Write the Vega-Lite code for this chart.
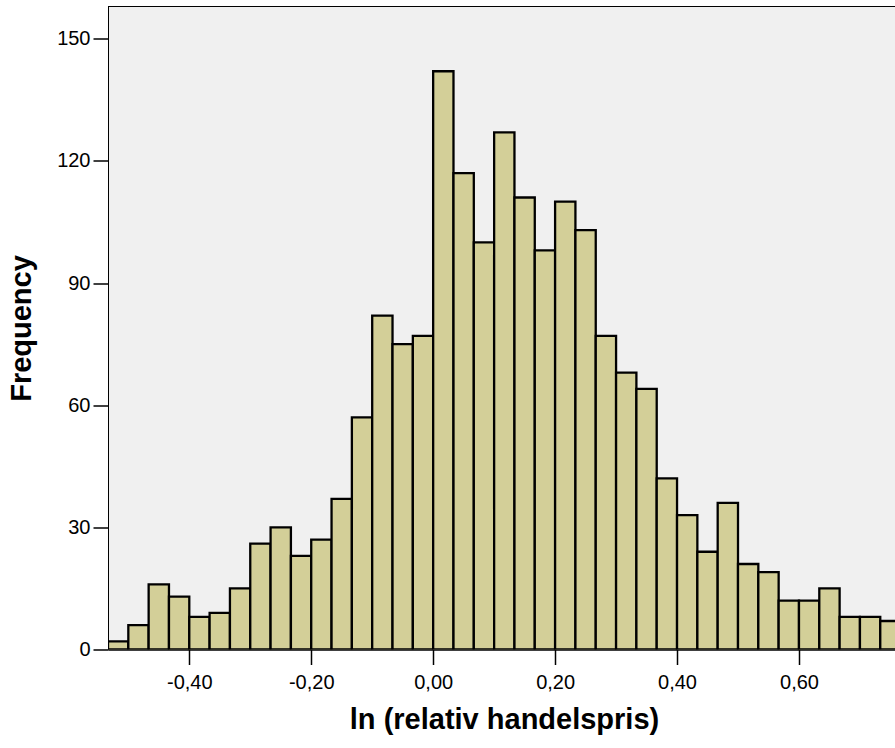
{
  "$schema": "https://vega.github.io/schema/vega-lite/v6.json",
  "width": 787,
  "height": 643,
  "autosize": "none",
  "padding": {"left": 108, "top": 6.5, "right": 0, "bottom": 98.5},
  "background": "white",
  "data": {"values": [
    {"lo": -0.533333, "hi": -0.5, "n": 2},
    {"lo": -0.5, "hi": -0.466667, "n": 6},
    {"lo": -0.466667, "hi": -0.433333, "n": 16},
    {"lo": -0.433333, "hi": -0.4, "n": 13},
    {"lo": -0.4, "hi": -0.366667, "n": 8},
    {"lo": -0.366667, "hi": -0.333333, "n": 9},
    {"lo": -0.333333, "hi": -0.3, "n": 15},
    {"lo": -0.3, "hi": -0.266667, "n": 26},
    {"lo": -0.266667, "hi": -0.233333, "n": 30},
    {"lo": -0.233333, "hi": -0.2, "n": 23},
    {"lo": -0.2, "hi": -0.166667, "n": 27},
    {"lo": -0.166667, "hi": -0.133333, "n": 37},
    {"lo": -0.133333, "hi": -0.1, "n": 57},
    {"lo": -0.1, "hi": -0.066667, "n": 82},
    {"lo": -0.066667, "hi": -0.033333, "n": 75},
    {"lo": -0.033333, "hi": 0, "n": 77},
    {"lo": 0, "hi": 0.033333, "n": 142},
    {"lo": 0.033333, "hi": 0.066667, "n": 117},
    {"lo": 0.066667, "hi": 0.1, "n": 100},
    {"lo": 0.1, "hi": 0.133333, "n": 127},
    {"lo": 0.133333, "hi": 0.166667, "n": 111},
    {"lo": 0.166667, "hi": 0.2, "n": 98},
    {"lo": 0.2, "hi": 0.233333, "n": 110},
    {"lo": 0.233333, "hi": 0.266667, "n": 103},
    {"lo": 0.266667, "hi": 0.3, "n": 77},
    {"lo": 0.3, "hi": 0.333333, "n": 68},
    {"lo": 0.333333, "hi": 0.366667, "n": 64},
    {"lo": 0.366667, "hi": 0.4, "n": 42},
    {"lo": 0.4, "hi": 0.433333, "n": 33},
    {"lo": 0.433333, "hi": 0.466667, "n": 24},
    {"lo": 0.466667, "hi": 0.5, "n": 36},
    {"lo": 0.5, "hi": 0.533333, "n": 21},
    {"lo": 0.533333, "hi": 0.566667, "n": 19},
    {"lo": 0.566667, "hi": 0.6, "n": 12},
    {"lo": 0.6, "hi": 0.633333, "n": 12},
    {"lo": 0.633333, "hi": 0.666667, "n": 15},
    {"lo": 0.666667, "hi": 0.7, "n": 8},
    {"lo": 0.7, "hi": 0.733333, "n": 8},
    {"lo": 0.733333, "hi": 0.766667, "n": 7}
  ]},
  "layer": [
    {
      "mark": {"type": "bar", "fill": "#d3cf98", "stroke": "black", "strokeWidth": 2.3, "clip": true},
      "encoding": {
        "x": {
          "field": "lo", "type": "quantitative",
          "scale": {"domain": [-0.533333, 0.7575], "nice": false, "zero": false},
          "axis": {
            "values": [-0.4, -0.2, 0, 0.2, 0.4, 0.6],
            "format": ".2f",
            "grid": false,
            "domainColor": "black", "domainWidth": 1.5,
            "tickColor": "black", "tickSize": 15, "tickWidth": 1.5,
            "labelFont": "Liberation Sans", "labelFontSize": 20, "labelColor": "black", "labelPadding": 8, "labelFlush": false,
            "title": "ln (relativ handelspris)",
            "titleFont": "Liberation Sans", "titleFontSize": 29, "titleFontWeight": "bold", "titleColor": "black", "titlePadding": 13,
            "titleX": 396
          }
        },
        "x2": {"field": "hi"},
        "y": {
          "field": "n", "type": "quantitative",
          "scale": {"domain": [0, 157.9], "nice": false},
          "axis": {
            "values": [0, 30, 60, 90, 120, 150],
            "grid": false,
            "domainColor": "black", "domainWidth": 1,
            "tickColor": "black", "tickSize": 15, "tickWidth": 1.5,
            "labelFont": "Liberation Sans", "labelFontSize": 20, "labelColor": "black", "labelPadding": 3,
            "title": "Frequency",
            "titleFont": "Liberation Sans", "titleFontSize": 29, "titleFontWeight": "bold", "titleColor": "black", "titlePadding": 20
          }
        },
        "y2": {"datum": 0}
      }
    },
    {
      "mark": {"type": "rule", "color": "black", "strokeWidth": 1},
      "encoding": {"y": {"datum": 157.9}}
    }
  ],
  "config": {
    "view": {"fill": "#f0f0f0", "stroke": null},
    "locale": {"number": {"decimal": ",", "thousands": ".", "grouping": [3], "currency": ["", " kr"], "minus": "-"}}
  }
}
